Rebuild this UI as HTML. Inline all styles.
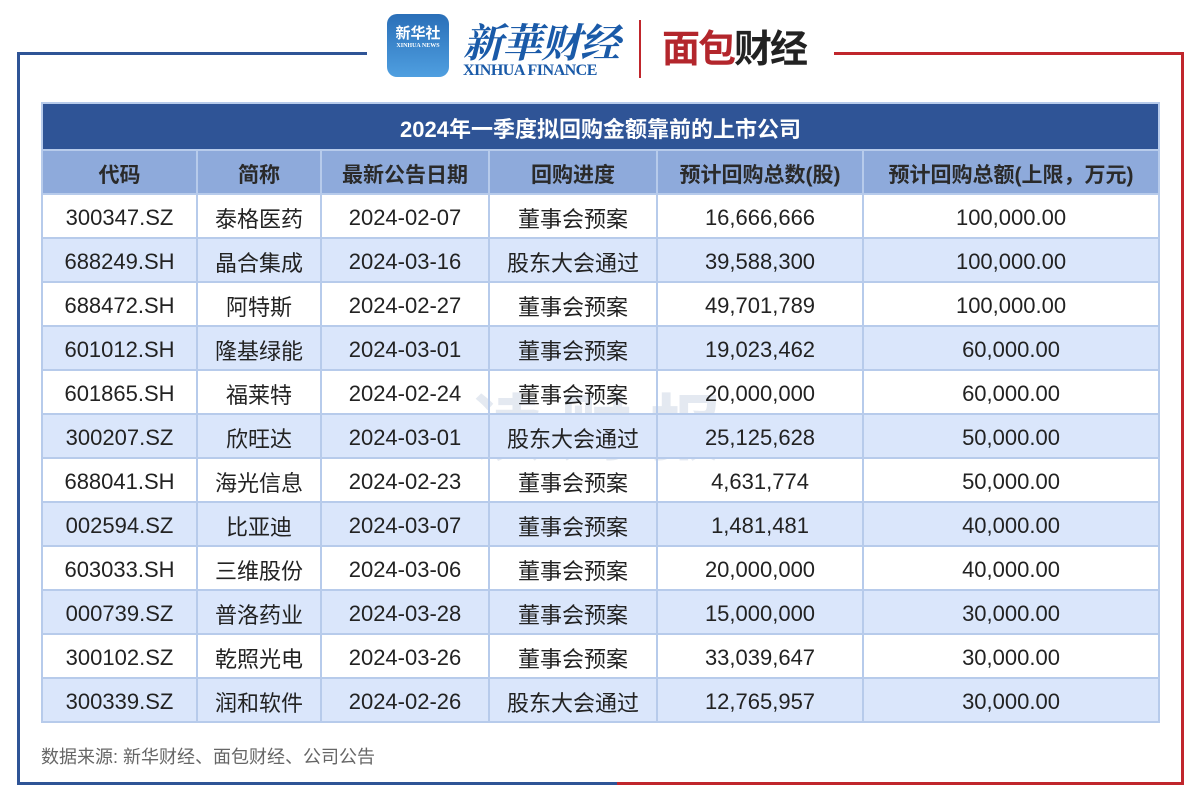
<!DOCTYPE html>
<html><head><meta charset="utf-8"><style>
*{margin:0;padding:0;box-sizing:border-box}
body{width:1200px;height:802px;background:#fff;position:relative;overflow:hidden;font-family:"Liberation Sans","Noto Sans CJK SC",sans-serif}
.ln{position:absolute}
table{position:absolute;left:41px;top:102px;width:1117px;border-collapse:collapse;table-layout:fixed}
td,th{border:2px solid #b7cbeb;text-align:center;color:#222;font-size:22px;height:44px;font-weight:normal;padding-top:3px}
th{background:#8eaadb;font-weight:bold;color:#2a2a2a;height:44px;font-size:21px}
tr.t td{background:#2f5496;color:#fff;font-weight:bold;height:47px;font-size:22px;border-color:#b7cbeb}
tr.b td{background:#dae6fb}
.foot{position:absolute;left:41px;top:743px;font-size:18px;color:#666}
.wm{position:absolute;left:470px;top:370px;font-size:72px;font-weight:bold;color:rgba(47,84,150,0.13);letter-spacing:18px}
</style></head><body>
<div class="ln" style="left:17px;top:52px;width:350px;height:3px;background:#2f5496"></div>
<div class="ln" style="left:17px;top:52px;width:3px;height:733px;background:#2f5496"></div>
<div class="ln" style="left:17px;top:782px;width:600px;height:3px;background:#2f5496"></div>
<div class="ln" style="left:834px;top:52px;width:350px;height:3px;background:#c0262c"></div>
<div class="ln" style="left:1181px;top:52px;width:3px;height:733px;background:#c0262c"></div>
<div class="ln" style="left:617px;top:782px;width:567px;height:3px;background:#c0262c"></div>

<div class="ln" style="left:387px;top:14px;width:62px;height:63px;border-radius:10px;background:linear-gradient(#2a6fb8,#4f9fe0);color:#fff;font-size:15px;text-align:center;padding-top:8px;font-weight:bold">新华社<div style="font-size:6px;font-family:'Liberation Serif'">XINHUA NEWS</div></div>
<div class="ln" style="left:463px;top:12px;font-size:40px;color:#1a5aa8;font-family:'Liberation Serif','Noto Serif CJK SC',serif;font-style:italic;font-weight:bold;letter-spacing:-1px">新華财经</div>
<div class="ln" style="left:463px;top:62px;font-size:16px;color:#1a5aa8;font-family:'Liberation Serif',serif;font-weight:bold;white-space:nowrap;letter-spacing:-0.5px">XINHUA FINANCE</div>
<div class="ln" style="left:639px;top:20px;width:2px;height:58px;background:#c0262c"></div>
<div class="ln" style="left:662px;top:18px;font-size:38px;font-weight:bold;color:#b3262c;letter-spacing:-2px">面包<span style="color:#222">财经</span></div>

<div class="wm">读财报</div>
<table>
<colgroup><col style="width:155px"><col style="width:124px"><col style="width:168px"><col style="width:168px"><col style="width:206px"><col style="width:296px"></colgroup>
<tr class="t"><td colspan="6">2024年一季度拟回购金额靠前的上市公司</td></tr>
<tr><th>代码</th><th>简称</th><th>最新公告日期</th><th>回购进度</th><th>预计回购总数(股)</th><th>预计回购总额(上限，万元)</th></tr>
<tr><td>300347.SZ</td><td>泰格医药</td><td>2024-02-07</td><td>董事会预案</td><td>16,666,666</td><td>100,000.00</td></tr>
<tr class="b"><td>688249.SH</td><td>晶合集成</td><td>2024-03-16</td><td>股东大会通过</td><td>39,588,300</td><td>100,000.00</td></tr>
<tr><td>688472.SH</td><td>阿特斯</td><td>2024-02-27</td><td>董事会预案</td><td>49,701,789</td><td>100,000.00</td></tr>
<tr class="b"><td>601012.SH</td><td>隆基绿能</td><td>2024-03-01</td><td>董事会预案</td><td>19,023,462</td><td>60,000.00</td></tr>
<tr><td>601865.SH</td><td>福莱特</td><td>2024-02-24</td><td>董事会预案</td><td>20,000,000</td><td>60,000.00</td></tr>
<tr class="b"><td>300207.SZ</td><td>欣旺达</td><td>2024-03-01</td><td>股东大会通过</td><td>25,125,628</td><td>50,000.00</td></tr>
<tr><td>688041.SH</td><td>海光信息</td><td>2024-02-23</td><td>董事会预案</td><td>4,631,774</td><td>50,000.00</td></tr>
<tr class="b"><td>002594.SZ</td><td>比亚迪</td><td>2024-03-07</td><td>董事会预案</td><td>1,481,481</td><td>40,000.00</td></tr>
<tr><td>603033.SH</td><td>三维股份</td><td>2024-03-06</td><td>董事会预案</td><td>20,000,000</td><td>40,000.00</td></tr>
<tr class="b"><td>000739.SZ</td><td>普洛药业</td><td>2024-03-28</td><td>董事会预案</td><td>15,000,000</td><td>30,000.00</td></tr>
<tr><td>300102.SZ</td><td>乾照光电</td><td>2024-03-26</td><td>董事会预案</td><td>33,039,647</td><td>30,000.00</td></tr>
<tr class="b"><td>300339.SZ</td><td>润和软件</td><td>2024-02-26</td><td>股东大会通过</td><td>12,765,957</td><td>30,000.00</td></tr>
</table>
<div class="foot">数据来源: 新华财经、面包财经、公司公告</div>
</body></html>
